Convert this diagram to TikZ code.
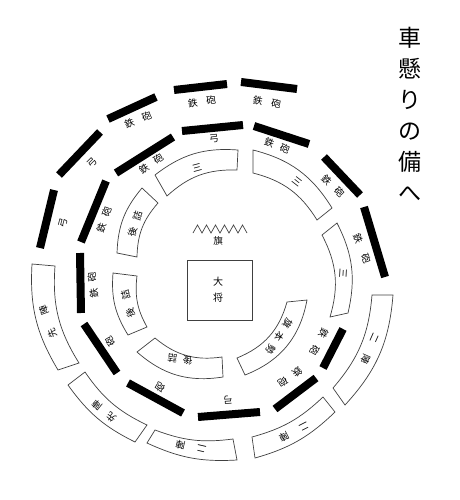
\documentclass[tikz,border=0pt]{standalone}
\usepackage{fontspec}
\newfontfamily\jp{Noto Sans CJK JP}
\begin{document}
\begin{tikzpicture}[x=1pt,y=-1pt,
  cell/.style={draw=black!75, line width=0.7pt, fill=white},
  bar/.style={line width=8pt, draw=black, line cap=butt},
  lbl/.style={font=\jp\fontsize{9.5}{9.5}\selectfont, text=black, inner sep=0pt},
  ttl/.style={font=\jp\fontsize{23}{31}\selectfont, align=center, inner sep=0pt, text=black},
]
\path[use as bounding box] (0,0) rectangle (459,500);

% ---- title
\node[ttl] (title) at (410,114) {車\\懸\\り\\の\\備\\へ};

% ---- outer ring bars
\draw[bar] (241,82) -- (297,89);
\draw[bar] (174,90) -- (227,84);
\draw[bar] (108,119) -- (156,97);
\draw[bar] (59,175) -- (100,132);
\draw[bar] (40,248) -- (54,190);
\draw[bar] (364,207) -- (385,277);
\draw[bar] (324,157) -- (360,195);

% ---- outer ring cells
\draw[cell] (32,264) to[bend right=17] (58,370) -- (79,363) to[bend left=18] (55,266) -- cycle;
\draw[cell] (68,385) to[bend right=14] (135,442) -- (147,425) to[bend left=15] (85,372) -- cycle;
\draw[cell] (147,443) to[bend right=14] (237,460) -- (233,439) to[bend left=14] (155,430) -- cycle;
\draw[cell] (255,458) to[bend right=14] (335,412) -- (323,397) to[bend left=14] (252,437) -- cycle;
\draw[cell] (345,405) to[bend right=19] (393,295) -- (372,295) to[bend left=18] (333,388) -- cycle;

% ---- second ring bars
\draw[bar] (254,126) -- (309,144);
\draw[bar] (182,131) -- (243,125);
\draw[bar] (116,173) -- (173,137);
\draw[bar] (81,242) -- (106,181);
\draw[bar] (80,253) -- (81,313);
\draw[bar] (84,324) -- (117,373);
\draw[bar] (128,383) -- (183,413);
\draw[bar] (198,417) -- (260,412);
\draw[bar] (275,409) -- (316,378);
\draw[bar] (343,329) -- (323,368);

% ---- third ring cells
\draw[cell] (348,313) to[bend right=20] (337,223) -- (322,235) to[bend left=22] (330,317) -- cycle;
\draw[cell] (332,208) to[bend right=22] (253,150) -- (253,173) to[bend left=22] (317,220) -- cycle;
\draw[cell] (238,150) to[bend right=21] (155,175) -- (167,196) to[bend left=22] (237,170) -- cycle;

% ---- inner cells
\draw[cell] (142,188) to[bend right=19] (117,253) -- (137,257) to[bend left=20] (158,203) -- cycle;
\draw[cell] (113,273) to[bend right=18] (128,335) -- (147,327) to[bend left=18] (137,276) -- cycle;
\draw[cell] (137,352) to[bend right=25] (223,377) -- (222,357) to[bend left=24] (155,338) -- cycle;
\draw[cell] (245,375) to[bend right=29] (307,300) -- (287,302) to[bend left=26] (237,358) -- cycle;

% ---- general's box and flag
\node[draw=black!75, line width=0.7pt, minimum width=65pt, minimum height=60pt, inner sep=0pt] (taisho) at (219.5,290) {};
\node[lbl, font=\jp\fontsize{10}{16}\selectfont, align=center] (taishotxt) at (218,290) {大\\将};
\draw[black!75, line width=0.7pt] (193,233)
  \foreach \i in {0,...,5} { -- ({193+9*\i+4.5},225) -- ({193+9*\i+9},233) };
\node[lbl] (hata) at (218,241) {旗};

% ---- labels, outer ring
\node[lbl, rotate=-9] (la0) at (267,102) {鉄\hspace{9pt}砲};
\node[lbl, rotate=8] (la1) at (202,102) {鉄\hspace{9pt}砲};
\node[lbl, rotate=22] (la2) at (138,120) {鉄\hspace{9pt}砲};
\node[lbl, rotate=45] (la3) at (92,163) {弓};
\node[lbl, rotate=75] (la4) at (63,223) {弓};
\node[lbl, rotate=110] (la5) at (48,322) {先\hspace{15pt}陣};
\node[lbl, rotate=141] (la6) at (104,411) {先\hspace{9pt}陣};
\node[lbl, rotate=167] (la7) at (191,447) {二\hspace{12pt}陣};
\node[lbl, rotate=207] (la8) at (294,432) {二\hspace{13pt}陣};
\node[lbl, rotate=-114] (la9) at (370,349) {二\hspace{13pt}陣};
\node[lbl, rotate=-68] (la10) at (362,249) {鉄\hspace{12pt}砲};
\node[lbl, rotate=-43] (la11) at (333,186) {鉄\hspace{8pt}砲};

% ---- labels, second ring
\node[lbl, rotate=-20] (lb0) at (277,146) {鉄\hspace{7pt}砲};
\node[lbl, rotate=6] (lb1) at (214,139) {弓};
\node[lbl, rotate=35] (lb2) at (151,164) {鉄\hspace{8pt}砲};
\node[lbl, rotate=72] (lb3) at (104,220) {鉄\hspace{8pt}砲};
\node[lbl, rotate=97] (lb4) at (93,285) {鉄\hspace{7pt}砲};
\node[lbl, rotate=124] (lb5) at (110,342) {砲};
\node[lbl, rotate=151] (lb6) at (160,387) {砲};
\node[lbl, rotate=183] (lb7) at (228,400) {弓};
\node[lbl, rotate=215] (lb8) at (290,377) {鉄\hspace{8pt}砲};
\node[lbl, rotate=-117] (lb9) at (319,342) {鉄\hspace{10pt}砲};

% ---- labels, third ring and inner cells
\node[lbl, rotate=-93] (lc0) at (343,273) {三};
\node[lbl, rotate=-38] (lc1) at (297,182) {三};
\node[lbl, rotate=15] (lc2) at (197,168) {三};
\node[lbl, rotate=74] (ld1) at (135,224) {後\hspace{8pt}詰};
\node[lbl, rotate=105] (ld2) at (128,304) {後\hspace{9pt}詰};
\node[lbl, rotate=172] (ld3) at (180,359) {後\hspace{6pt}詰};
\node[lbl, rotate=-123] (ld4) at (279,336) {旗\hspace{6pt}本\hspace{6pt}勢};
\end{tikzpicture}
\end{document}
